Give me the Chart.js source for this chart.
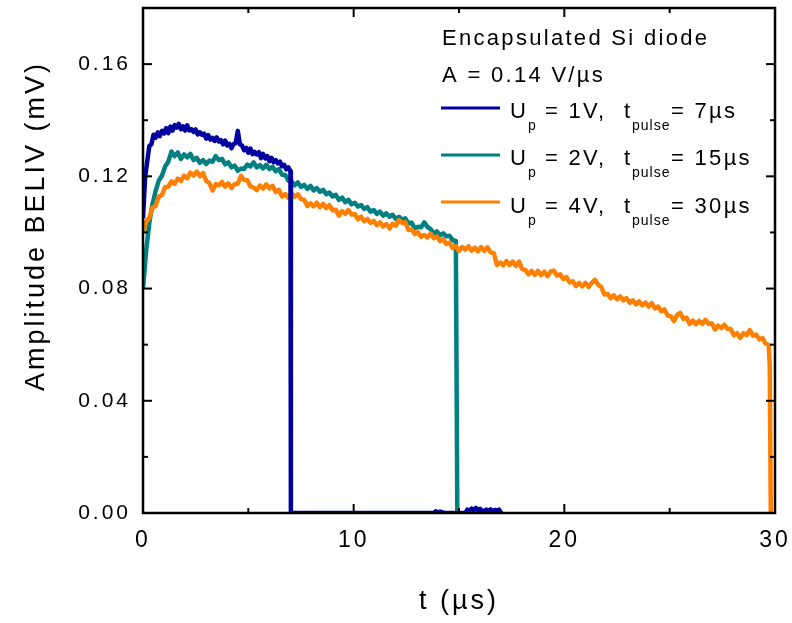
<!DOCTYPE html>
<html><head><meta charset="utf-8">
<script src="https://cdn.jsdelivr.net/npm/chart.js@4.4.1/dist/chart.umd.min.js"></script>
<style>html,body{margin:0;padding:0;background:#fff;}canvas{display:block;}</style>
</head><body>
<canvas id="c" width="792" height="623"></canvas>
<script>
// ---- data ----
const xMajorTicks = [0, 10, 20, 30];
const xMinorTicks = [5, 15, 25];
const yMajorTicks = [0, 0.04, 0.08, 0.12, 0.16];
const yMinorTicks = [0.02, 0.06, 0.10, 0.14];
const upLabels = ['1V', '2V', '4V'];
const pulseLabels = ['7µs', '15µs', '30µs'];

const blueStep = 0.1;   // sampling interval (µs)
const blueValues = [
0.1050,0.1195,0.1253,0.1308,0.1314,0.1348,0.1338,0.1357,0.1343,0.1362,
0.1353,0.1372,0.1354,0.1377,0.1363,0.1383,0.1374,0.1387,0.1368,0.1378,
0.1363,0.1382,0.1364,0.1368,0.1358,0.1367,0.1349,0.1357,0.1348,0.1352,
0.1334,0.1347,0.1331,0.1337,0.1326,0.1339,0.1324,0.1329,0.1314,0.1327,
0.1310,0.1316,0.1300,0.1315,0.1318,0.1362,0.1314,0.1310,0.1293,0.1301,
0.1284,0.1299,0.1279,0.1287,0.1278,0.1286,0.1265,0.1280,0.1264,0.1272,
0.1254,0.1266,0.1250,0.1258,0.1246,0.1252,0.1236,0.1241,0.1225,0.1232,
0.1218];
const blueTailTimes  = [7.02, 13.8, 13.9, 14.0, 14.1, 14.3, 14.4, 15.3, 15.4, 15.5, 15.6, 15.7, 15.8, 15.9, 16.0, 16.1, 16.2, 16.3, 16.4, 16.5, 16.6, 16.7, 16.8, 16.9, 17.0];
const blueTailValues = [0, 0, 0.0006, 0, 0.0005, 0, 0, 0, 0.0012, 0.0008, 0.0016, 0.0010, 0.0018, 0.0009, 0.0015, 0.0008, 0.0006, 0.0012, 0.0007, 0.0013, 0.0005, 0.0011, 0.0008, 0.0012, 0];

const tealStep = 0.15;
const tealValues = [
0.0800,0.0935,0.1035,0.1100,0.1148,0.1185,0.1202,0.1235,0.1252,0.1288,
0.1272,0.1285,0.1262,0.1278,0.1268,0.1280,0.1258,0.1266,0.1248,0.1258,
0.1244,0.1256,0.1252,0.1272,0.1258,0.1262,0.1243,0.1250,0.1232,0.1238,
0.1220,0.1228,0.1226,0.1242,0.1235,0.1250,0.1232,0.1240,0.1228,0.1241,
0.1226,0.1234,0.1218,0.1226,0.1206,0.1205,0.1185,0.1182,0.1168,0.1178,
0.1162,0.1170,0.1155,0.1166,0.1150,0.1158,0.1145,0.1152,0.1136,0.1142,
0.1128,0.1134,0.1116,0.1124,0.1108,0.1116,0.1100,0.1106,0.1092,0.1098,
0.1084,0.1090,0.1074,0.1080,0.1066,0.1074,0.1060,0.1068,0.1056,0.1063,
0.1048,0.1056,0.1045,0.1050,0.1032,0.1035,0.1015,0.1020,0.1018,0.1036,
0.1020,0.1012,0.0996,0.1004,0.0990,0.0997,0.0986,0.0988,0.0972,0.0970];
const tealTailTimes = [14.92];
const tealTailValues = [0];

const orangeStep = 0.15;
const orangeValues = [
0.1000,0.1038,0.1052,0.1088,0.1094,0.1128,0.1133,0.1162,0.1163,0.1182,
0.1173,0.1192,0.1183,0.1202,0.1193,0.1213,0.1203,0.1217,0.1200,0.1212,
0.1184,0.1176,0.1150,0.1172,0.1168,0.1180,0.1163,0.1175,0.1158,0.1172,
0.1174,0.1202,0.1187,0.1186,0.1164,0.1160,0.1151,0.1167,0.1156,0.1171,
0.1157,0.1166,0.1144,0.1152,0.1128,0.1137,0.1124,0.1141,0.1127,0.1136,
0.1119,0.1116,0.1094,0.1104,0.1093,0.1106,0.1090,0.1102,0.1087,0.1097,
0.1079,0.1081,0.1060,0.1076,0.1066,0.1080,0.1064,0.1066,0.1047,0.1056,
0.1040,0.1048,0.1034,0.1041,0.1026,0.1036,0.1021,0.1030,0.1014,0.1031,
0.1024,0.1044,0.1034,0.1036,0.1009,0.1011,0.0994,0.1001,0.0984,0.0991,
0.0982,0.0996,0.0979,0.0986,0.0969,0.0976,0.0959,0.0964,0.0944,0.0951,
0.0934,0.0948,0.0939,0.0951,0.0935,0.0946,0.0933,0.0948,0.0934,0.0947,
0.0929,0.0926,0.0884,0.0893,0.0883,0.0898,0.0884,0.0896,0.0881,0.0896,
0.0869,0.0866,0.0851,0.0863,0.0849,0.0863,0.0848,0.0860,0.0844,0.0861,
0.0864,0.0846,0.0851,0.0834,0.0841,0.0822,0.0826,0.0809,0.0820,0.0808,
0.0820,0.0806,0.0820,0.0831,0.0814,0.0806,0.0779,0.0781,0.0766,0.0776,
0.0762,0.0772,0.0758,0.0766,0.0749,0.0758,0.0744,0.0754,0.0740,0.0750,
0.0736,0.0748,0.0729,0.0736,0.0719,0.0726,0.0704,0.0701,0.0684,0.0706,
0.0713,0.0692,0.0696,0.0674,0.0686,0.0673,0.0685,0.0674,0.0688,0.0674,
0.0676,0.0654,0.0668,0.0659,0.0671,0.0656,0.0656,0.0634,0.0641,0.0624,
0.0641,0.0634,0.0652,0.0632,0.0636,0.0619,0.0624,0.0604,0.0599];
const orangeTailTimes = [29.75, 29.8];
const orangeTailValues = [0.053, 0];

// ---- build ----
function series(step, values, tailT, tailV) {
  const pts = values.map((v, i) => ({ x: Math.round(i * step * 1000) / 1000, y: v }));
  tailT.forEach((t, i) => pts.push({ x: t, y: tailV[i] }));
  return pts;
}
const COLORS = { blue: '#0000A0', teal: '#008080', orange: '#FF8000' };
const FONT = '"Liberation Sans", Arial, Helvetica, sans-serif';

const framePlugin = {
  id: 'frame',
  beforeDraw(chart) { chart.ctx.letterSpacing = '3px'; },
  afterDraw(chart) {
    const ctx = chart.ctx, a = chart.chartArea, xs = chart.scales.x, ys = chart.scales.y;
    ctx.save();
    ctx.strokeStyle = '#000';
    ctx.lineWidth = 2;
    const tick = (x1, y1, x2, y2) => { ctx.beginPath(); ctx.moveTo(x1, y1); ctx.lineTo(x2, y2); ctx.stroke(); };
    xMajorTicks.forEach(v => { const p = xs.getPixelForValue(v); tick(p, a.bottom, p, a.bottom - 9); tick(p, a.top, p, a.top + 9); });
    xMinorTicks.forEach(v => { const p = xs.getPixelForValue(v); tick(p, a.bottom, p, a.bottom - 5); tick(p, a.top, p, a.top + 5); });
    yMajorTicks.forEach(v => { const p = ys.getPixelForValue(v); tick(a.left, p, a.left + 9, p); tick(a.right, p, a.right - 9, p); });
    yMinorTicks.forEach(v => { const p = ys.getPixelForValue(v); tick(a.left, p, a.left + 5, p); tick(a.right, p, a.right - 5, p); });
    ctx.lineWidth = 2.5;
    ctx.strokeRect(a.left, a.top, a.right - a.left, a.bottom - a.top);

    // y axis title
    ctx.fillStyle = '#000';
    ctx.font = '27px ' + FONT;
    ctx.letterSpacing = '3px';
    ctx.textAlign = 'center';
    ctx.textBaseline = 'alphabetic';
    ctx.save();
    ctx.translate(44, 226);
    ctx.rotate(-Math.PI / 2);
    ctx.fillText('Amplitude BELIV (mV)', 0, 0);
    ctx.restore();

    // legend / annotation
    ctx.textAlign = 'left';
    const txt = (s, x, y, size, sp) => { ctx.font = size + 'px ' + FONT; ctx.letterSpacing = sp + 'px'; ctx.fillText(s, x, y); };
    txt('Encapsulated Si diode', 442, 45, 22, 2.3);
    txt('A = 0.14 V/µs', 442, 82, 22, 2.3);
    const lineY = [108, 155, 202], baseY = [118, 165, 213], cols = [COLORS.blue, COLORS.teal, COLORS.orange];
    for (let i = 0; i < 3; i++) {
      ctx.strokeStyle = cols[i]; ctx.lineWidth = 3;
      ctx.beginPath(); ctx.moveTo(441, lineY[i]); ctx.lineTo(500, lineY[i]); ctx.stroke();
      const b = baseY[i];
      txt('U', 510, b, 22, 2.3);
      txt('p', 528, b + 12, 14, 1);
      txt('= ' + upLabels[i] + ',', 545, b, 22, 2.3);
      txt('t', 624, b, 22, 2.3);
      txt('pulse', 632, b + 12, 14, 1);
      txt('= ' + pulseLabels[i], 671, b, 22, 2.3);
    }
    ctx.restore();
    ctx.letterSpacing = '0px';
  }
};

new Chart(document.getElementById('c'), {
  type: 'line',
  data: {
    datasets: [
      { label: 'Up = 1V, tpulse = 7µs', data: series(blueStep, blueValues, blueTailTimes, blueTailValues), borderColor: COLORS.blue, order: 1 },
      { label: 'Up = 2V, tpulse = 15µs', data: series(tealStep, tealValues, tealTailTimes, tealTailValues), borderColor: COLORS.teal, order: 3 },
      { label: 'Up = 4V, tpulse = 30µs', data: series(orangeStep, orangeValues, orangeTailTimes, orangeTailValues), borderColor: COLORS.orange, order: 2 }
    ]
  },
  options: {
    responsive: false,
    animation: false,
    devicePixelRatio: 1,
    layout: { padding: { left: 0, right: 17, top: 8, bottom: 0 } },
    elements: {
      line: { borderWidth: 4.5, tension: 0, borderJoinStyle: 'round', fill: false },
      point: { radius: 0, hoverRadius: 0 }
    },
    plugins: { legend: { display: false }, tooltip: { enabled: false } },
    scales: {
      x: {
        type: 'linear', min: 0, max: 30,
        afterBuildTicks: s => { s.ticks = xMajorTicks.map(v => ({ value: v })); },
        afterFit: s => { s.height = 110; s.paddingLeft = 0; s.paddingRight = 0; },
        grid: { display: false, drawTicks: false },
        border: { display: false },
        ticks: { color: '#000', font: { family: FONT, size: 23 }, padding: 14, maxRotation: 0, callback: v => String(v) },
        title: { display: true, text: 't (µs)', color: '#000', font: { family: FONT, size: 27 }, padding: { top: 0, bottom: 5 } }
      },
      y: {
        type: 'linear', min: 0, max: 0.18,
        afterBuildTicks: s => { s.ticks = yMajorTicks.map(v => ({ value: v })); },
        afterFit: s => { s.width = 143; s.paddingTop = 0; s.paddingBottom = 0; },
        grid: { display: false, drawTicks: false },
        border: { display: false },
        ticks: { color: '#000', font: { family: FONT, size: 21 }, padding: 12, callback: v => Number(v).toFixed(2) }
      }
    }
  },
  plugins: [framePlugin]
});
</script>
</body></html>
